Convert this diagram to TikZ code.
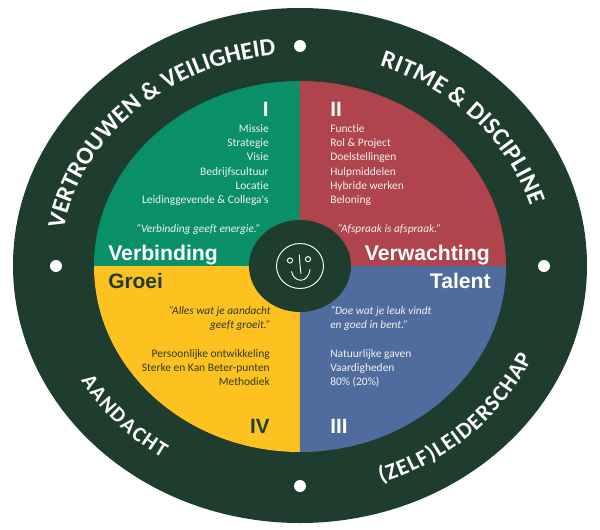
\documentclass[tikz,border=0pt]{standalone}
\usepackage{fontspec}
\setmainfont{Liberation Sans}
\newfontfamily\bodyfont[Ligatures=CommonOff]{Carlito}
\usetikzlibrary{decorations.text}
\definecolor{ringdark}{HTML}{1F3D2F}
\definecolor{qgreen}{HTML}{0A9068}
\definecolor{qred}{HTML}{AF444C}
\definecolor{qyellow}{HTML}{FDC220}
\definecolor{qblue}{HTML}{506C9E}
\definecolor{softwhite}{HTML}{F2F2EE}
\definecolor{darktext}{HTML}{2E3A25}
\newcommand{\ringfont}{\color{white}\bodyfont\fontsize{18.5}{20}\selectfont\bfseries}
\newcommand{\ringfontb}{\color{white}\bodyfont\fontsize{16}{20}\selectfont\bfseries}
\newcommand{\ringfontc}{\color{white}\bodyfont\fontsize{17}{20}\selectfont\bfseries}
\tikzset{
  x=0.75pt,y=0.75pt,
  listlight/.style={font=\bodyfont\fontsize{8.6}{10.75}\selectfont,text=softwhite,inner sep=0pt},
  listdark/.style={font=\bodyfont\fontsize{8.6}{10.75}\selectfont,text=darktext,inner sep=0pt},
  quotelight/.style={font=\bodyfont\itshape\fontsize{8.5}{10.75}\selectfont,text=softwhite,inner sep=0pt},
  quotedark/.style={font=\bodyfont\itshape\fontsize{8.5}{10.75}\selectfont,text=darktext,inner sep=0pt},
  headlight/.style={font=\bfseries\fontsize{15.9}{18}\selectfont,text=white,inner sep=0pt},
  headdark/.style={font=\bfseries\fontsize{15.7}{18}\selectfont,text=ringdark,inner sep=0pt},
  numlight/.style={font=\bfseries\fontsize{15.5}{18}\selectfont,text=white,inner sep=0pt},
  numdark/.style={font=\bfseries\fontsize{15.5}{18}\selectfont,text=ringdark,inner sep=0pt},
  ringdot/.style={fill=white,draw=none,circle,minimum size=9pt,inner sep=0pt},
  faceline/.style={draw=white,line width=0.7pt,line cap=round},
}
\begin{document}
\begin{tikzpicture}
\useasboundingbox (-300,-263) rectangle (300,266);
% ring
\fill[ringdark] (0,0.5) ellipse [x radius=287,y radius=257.5];
% quadrants
\fill[qgreen]  (0,0) -- (-206,0) arc[start angle=180,end angle=90,x radius=206,y radius=185] -- cycle;
\fill[qred]    (0,0) -- (206,0) arc[start angle=0,end angle=90,x radius=206,y radius=185] -- cycle;
\fill[qyellow] (0,0) -- (-206,0) arc[start angle=180,end angle=270,x radius=206,y radius=186] -- cycle;
\fill[qblue]   (0,0) -- (206,0) arc[start angle=0,end angle=-90,x radius=206,y radius=186] -- cycle;
% centre
\fill[ringdark] (0,0) ellipse [x radius=51,y radius=46];
% dots
\node[ringdot] (dottop) at (0,220) {};
\node[ringdot] (dotleft) at (-244,0) {};
\node[ringdot] (dotright) at (244,0) {};
\node[ringdot] (dotbottom) at (0,-220) {};
% ring text
\path[decorate,decoration={text along path,text align={fit to path},
  text={|\ringfont|VERTROUWEN {\&} VEILIGHEID}}]
  (170:240 and 212) arc[start angle=170,end angle=96,x radius=240,y radius=212];
\path[decorate,decoration={text along path,text align={fit to path},
  text={|\ringfont|RITME {\&} DISCIPLINE}}]
  (70.6:240 and 212) arc[start angle=70.6,end angle=16.5,x radius=240,y radius=212];
\path[decorate,decoration={text along path,text align={fit to path},
  text={|\ringfontb|AANDACHT}}]
  (210:253 and 229) arc[start angle=210,end angle=237,x radius=253,y radius=229];
\path[decorate,decoration={text along path,text align={fit to path},
  text={|\ringfontc|(ZELF)LEIDERSCHAP}}]
  (-71.3:253 and 229) arc[start angle=-71.3,end angle=-23.5,x radius=253,y radius=229];
% quadrant I
\node[numlight,anchor=base east] (numi) at (-31,150) {I};
\node[listlight,anchor=north east,align=right] (listi) at (-31,142)
  {Missie\\Strategie\\Visie\\Bedrijfscultuur\\Locatie\\Leidinggevende \& Collega's};
\node[quotelight,anchor=east] (quotei) at (-39,37) {“Verbinding geeft energie.”};
\node[headlight,anchor=base west] (headi) at (-192,6) {Verbinding};
% quadrant II
\node[numlight,anchor=base west] (numii) at (30,150) {II};
\node[listlight,anchor=north west,align=left] (listii) at (30,142)
  {Functie\\Rol \& Project\\Doelstellingen\\Hulpmiddelen\\Hybride werken\\Beloning};
\node[quotelight,anchor=west] (quoteii) at (37,37) {“Afspraak is afspraak.”};
\node[headlight,anchor=base east] (headii) at (190,6) {Verwachting};
% quadrant III
\node[headlight,anchor=base east] (headiii) at (191,-22) {Talent};
\node[quotelight,anchor=north west,align=left] (quoteiii) at (30,-40)
  {“Doe wat je leuk vindt\\en goed in bent.”};
\node[listlight,anchor=north west,align=left] (listiii) at (30,-83)
  {Natuurlijke gaven\\Vaardigheden\\80\% (20\%)};
\node[numlight,anchor=base west] (numiii) at (30,-167) {III};
% quadrant IV
\node[headdark,anchor=base west] (headiv) at (-192,-22) {Groei};
\node[quotedark,anchor=north east,align=right] (quoteiv) at (-29,-40)
  {“Alles wat je aandacht\\geeft groeit.”};
\node[listdark,anchor=north east,align=right] (listiv) at (-30,-83)
  {Persoonlijke ontwikkeling\\Sterke en Kan Beter-punten\\Methodiek};
\node[numdark,anchor=base east] (numiv) at (-30,-167) {IV};
% face
\draw[faceline] (0,0) ellipse [x radius=23.5,y radius=22.5];
\draw[faceline] (-10,5.5) circle (2.6);
\draw[faceline] (8,6.8) circle (2.6);
\draw[faceline] (-0.7,11) .. controls (-0.2,4) and (0.2,-2) .. (1,-7.5);
\draw[faceline] (-8.5,-5.5) .. controls (-6,-17) and (8,-18) .. (10,-3.5);
\end{tikzpicture}
\end{document}
